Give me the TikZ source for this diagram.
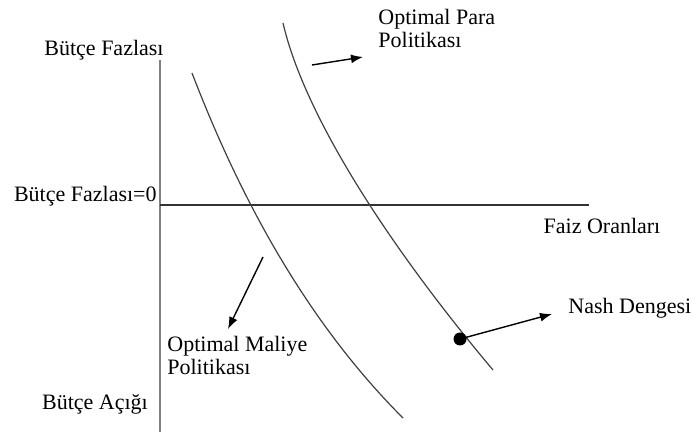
\documentclass[tikz,border=0pt]{standalone}
\usepackage{fontspec}
\setmainfont{Liberation Serif}
\usetikzlibrary{arrows.meta}
\begin{document}
\begin{tikzpicture}[
            x=0.5pt,y=-0.5pt,
            every node/.style={
                inner sep=0pt,align=left,
                font=\fontsize{11}{11.5}\selectfont
            },
            curve/.style={draw=black!75,line width=0.6pt},
            pointer/.style={->,line width=0.7pt},
            >={Latex[length=6pt,width=4.5pt]}
        ]
    \useasboundingbox (0,0) rectangle (696,432);
    % Axes
        \draw[gray,line width=1pt] (160,60) -- (160,432);
        \draw[black!80,line width=0.7pt] (160,205) -- (589,205);
    % Curves
        \draw[curve] (192,73) .. controls (235,185) and (300,315) .. (403,418);
        \draw[curve] (283,23) .. controls (305,118) and (392,250) .. (493,370);
    % Labels
        \node (surplus) at (104,50) {Bütçe Fazlası};
        \node[anchor=east] (zero) at (157,196) {Bütçe Fazlası=0};
        \node (deficit) at (95,404) {Bütçe Açığı};
        \node (rate) at (602,226) {Faiz Oranları};
        \node[anchor=west] (para) at (378,28) {Optimal Para\\Politikası};
        \node[anchor=west] (maliye) at (167,355) {Optimal Maliye\\Politikası};
        \node[anchor=west] (nash) at (568,308) {Nash Dengesi};
        \node[circle,fill=black,minimum size=6.5pt] (eq) at (460,339) {};
    % Pointers
        \coordinate (paratail) at (312,65);
        \coordinate (parahead) at (363,57);
        \coordinate (maliyetail) at (263,257);
        \coordinate (maliyehead) at (228,329);
        \coordinate (nashhead) at (552,314);
        \draw[pointer] (paratail) -- (parahead);
        \draw[pointer] (maliyetail) -- (maliyehead);
        \draw[pointer] (eq.center) -- (nashhead);
\end{tikzpicture}
\end{document}
